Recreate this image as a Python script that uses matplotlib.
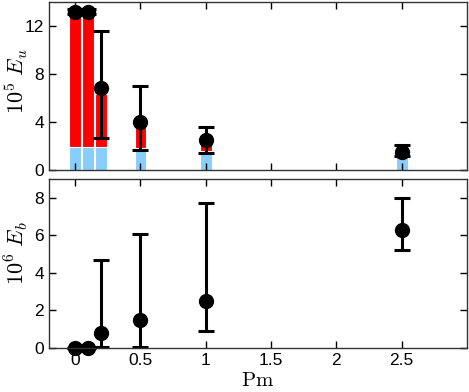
import matplotlib.pyplot as plt
import numpy as np

plt.rcParams['font.family'] = ['Liberation Sans', 'DejaVu Sans']
plt.rcParams['mathtext.fontset'] = 'cm'

pm = [0.0, 0.1, 0.2, 0.5, 1.0, 2.5]

# kinetic energy (x 1e5)
eu = [13.2, 13.2, 6.8, 4.0, 2.5, 1.5]
eu_lo = [13.0, 13.0, 2.7, 1.7, 1.4, 1.2]
eu_hi = [13.4, 13.4, 11.6, 7.0, 3.6, 2.1]
bar_blue = [1.95, 1.95, 1.95, 1.8, 1.6, 1.1]
bar_red = [12.8, 12.8, 6.3, 3.6, 2.3, 1.4]

# magnetic energy (x 1e6)
eb = [0.0, 0.0, 0.8, 1.5, 2.5, 6.3]
eb_lo = [0.0, 0.0, 0.05, 0.05, 0.9, 5.2]
eb_hi = [0.0, 0.0, 4.7, 6.05, 7.7, 8.0]

fig = plt.figure(figsize=(4.69, 3.92), dpi=100)
ax1 = fig.add_axes([49/469, 1 - 170/392, 418/469, 168/392])
ax2 = fig.add_axes([49/469, 1 - 348/392, 418/469, 169/392])

pm = np.array(pm)
bw = 0.09
ax1.bar(pm, bar_red, width=bw, color='#ff0000', edgecolor='white', linewidth=0.8, zorder=1)
ax1.bar(pm, bar_blue, width=bw, color='#87cefa', edgecolor='white', linewidth=0.8, zorder=1)

eu = np.array(eu)
ax1.errorbar(pm, eu, yerr=[eu - np.array(eu_lo), np.array(eu_hi) - eu], fmt='o', color='black',
             ms=10, elinewidth=2.2, capsize=6, capthick=2.2, zorder=3)

eb = np.array(eb)
ax2.errorbar(pm, eb, yerr=[eb - np.array(eb_lo), np.array(eb_hi) - eb], fmt='o', color='black',
             ms=10, elinewidth=2.2, capsize=6, capthick=2.2, zorder=3, clip_on=False)

for ax in (ax1, ax2):
    ax.set_xlim(-0.2, 3.0)
    ax.set_xticks([0, 0.5, 1, 1.5, 2, 2.5])
    ax.tick_params(direction='in', top=True, right=True, labelsize=12.5, length=5, width=1, zorder=5)
    for s in ax.spines.values():
        s.set_color('#333333')
        s.set_linewidth(1)
        s.set_zorder(4)

ax1.set_ylim(0, 14)
ax1.set_yticks([0, 4, 8, 12])
ax1.set_xticklabels([])
ax1.set_ylabel(r'$10^5\ E_u$', fontsize=16)

ax2.set_ylim(0, 9)
ax2.set_yticks([0, 2, 4, 6, 8])
ax2.set_xticklabels(['0', '0.5', '1', '1.5', '2', '2.5'])
ax2.set_ylabel(r'$10^6\ E_b$', fontsize=16)
ax2.set_xlabel(r'$\mathrm{Pm}$', fontsize=15, labelpad=2)

ax1.yaxis.set_label_coords(-0.045, 0.53)
ax2.yaxis.set_label_coords(-0.045, 0.56)

fig.savefig('out.png', dpi=100)
